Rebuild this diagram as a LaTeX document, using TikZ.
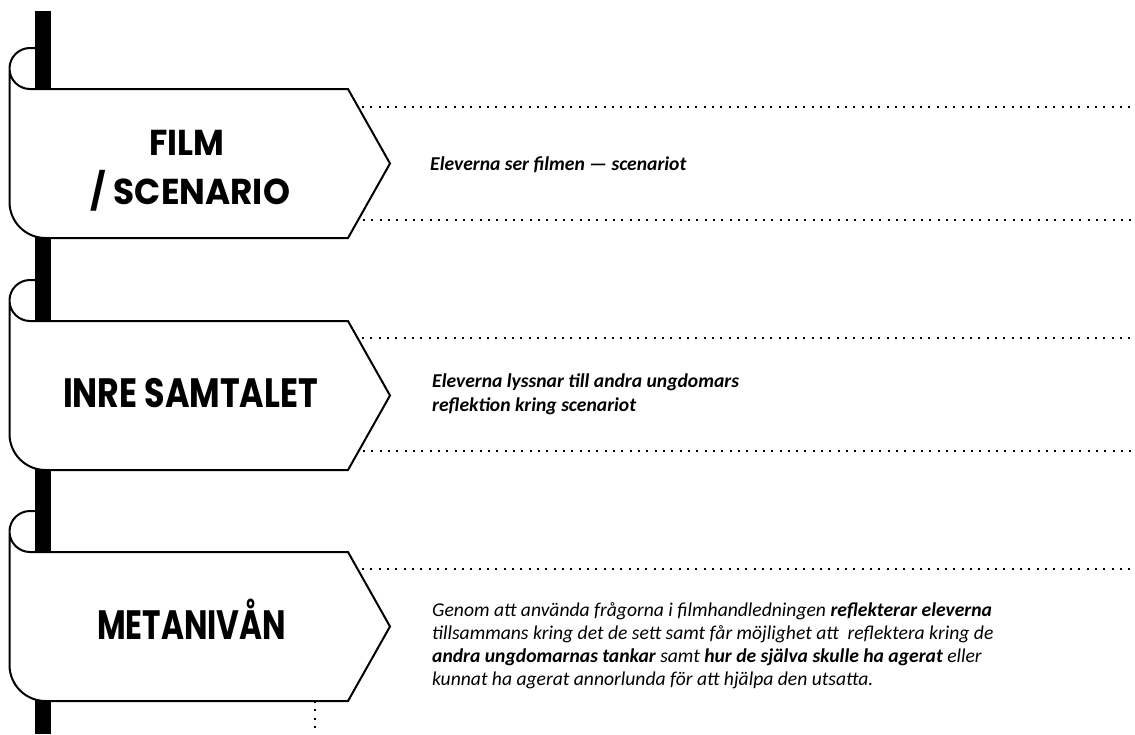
\documentclass[tikz,border=0pt]{standalone}
\usepackage{fontspec}
\usepackage{graphicx}
\setmainfont{Carlito}
\newfontfamily\titlefont{Poppins}
\newcommand\fitto[2]{\resizebox{#1}{\height}{#2}}
\tikzset{
  banner/.style={draw=black, line width=2pt, fill=white, line join=miter},
  curl/.style={draw=black, line width=2pt},
  bar/.style={fill=black, draw=none},
  dotline/.style={draw=black, line width=2pt, dash pattern=on 2pt off 6.33pt},
  titleA/.style={font=\titlefont\bfseries\fontsize{36}{40}\selectfont, inner sep=0pt, anchor=base},
  titleB/.style={font=\titlefont\bfseries\fontsize{41}{44}\selectfont, inner sep=0pt, anchor=base},
  desc/.style={font=\fontsize{19.6}{23}\selectfont\itshape, inner sep=0pt, anchor=base west},
}
\newcommand\bannercurl[1]{%
  \draw[curl] (9.5,#1-20.5) arc[start angle=180,end angle=270,radius=20.5] -- (40,#1-41);}
\newcommand\bannerbody[1]{%
  \draw[banner] (348,#1) -- (30,#1) arc[start angle=90,end angle=180,radius=20.5]
    -- (9.5,#1+113) arc[start angle=180,end angle=90,radius=36]
    -- (348,#1+149) -- (390,#1+74.5) -- cycle;}
\begin{document}
\begin{tikzpicture}[x=1pt,y=1pt,yscale=-1]
\useasboundingbox[fill=white] (0,0) rectangle (1135,734);
% curls behind the bar
\bannercurl{89}
\bannercurl{321}
\bannercurl{552}
% vertical bar
\fill[bar] (35,11) rectangle (51,734);
% banner bodies
\bannerbody{89}
\bannerbody{321}
\bannerbody{552}
% dotted guide lines
\coordinate (a1) at (362,107);  \coordinate (b1) at (1132,107);
\coordinate (a2) at (363,220);  \coordinate (b2) at (1132,220);
\coordinate (a3) at (362,338);  \coordinate (b3) at (1132,338);
\coordinate (a4) at (363,451);  \coordinate (b4) at (1132,451);
\coordinate (a5) at (362,569);  \coordinate (b5) at (1132,569);
\coordinate (v1) at (315,701);  \coordinate (v2) at (315,734);
\draw[dotline] (a1) -- (b1);
\draw[dotline] (a2) -- (b2);
\draw[dotline] (a3) -- (b3);
\draw[dotline] (a4) -- (b4);
\draw[dotline] (a5) -- (b5);
\draw[dotline] (v1) -- (v2);
% titles
\node[titleA] (t1a) at (186.5,155) {\fitto{75pt}{FILM}};
\node[titleA] (t1b) at (190.5,204) {\fitto{199pt}{/ SCENARIO}};
\node[titleB] (t2) at (190.5,407) {\fitto{255pt}{INRE SAMTALET}};
\node[titleB] (t3) at (191.5,639) {\fitto{189pt}{METANIVÅN}};
% descriptions
\node[desc] (d1) at (430,170) {\bfseries Eleverna ser filmen — scenariot};
\node[desc] (d2a) at (432,387) {\bfseries Eleverna lyssnar till andra ungdomars};
\node[desc] (d2b) at (432,411) {\bfseries reflektion kring scenariot};
\node[desc] (p1) at (432,616) {Genom att använda frågorna i filmhandledningen \textbf{reflekterar eleverna}};
\node[desc] (p2) at (432,639) {tillsammans kring det de sett samt får möjlighet att\ \ reflektera kring de};
\node[desc] (p3) at (432,662) {\textbf{andra ungdomarnas tankar} samt \textbf{hur de själva skulle ha agerat} eller};
\node[desc] (p4) at (432,685) {kunnat ha agerat annorlunda för att hjälpa den utsatta.};
\end{tikzpicture}
\end{document}
